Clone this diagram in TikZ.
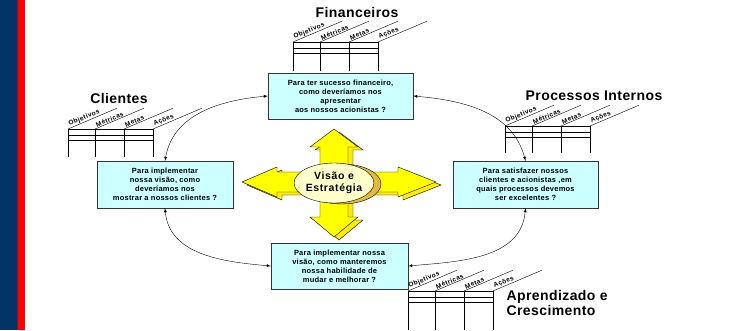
\documentclass[tikz,border=0pt]{standalone}
\usepackage{fontspec}
\setmainfont{Liberation Sans}[LetterSpace=3]
\newfontfamily\widefont{Liberation Sans}[LetterSpace=6]
\usepackage{tikz}
\usetikzlibrary{shapes,arrows,positioning,calc}

\definecolor{bscblue}{HTML}{003366}
\definecolor{bscred}{HTML}{FF0000}
\definecolor{boxcyan}{HTML}{CCFFFF}
\definecolor{arrowyellow}{HTML}{FFFF00}
\definecolor{arrowgold}{HTML}{E5B73B}
\definecolor{visioncream}{HTML}{FFFFCC}

% small table with the four slanted column heads
\newcommand{\bsctable}[4]{%
  \foreach \dx in {0,27,56,85}
    \draw (#1+\dx,#2) -- (#1+\dx,#2-#3);
  \foreach \dy in {0,6,11}
    \draw (#1,#2-\dy) -- (#1+85,#2-\dy);
  \foreach \dx/\lab/\tag in {0/Objetivos/obj,27/Métricas/met,56/Metas/mts,85/Ações/acs} {
    \draw (#1+\dx,#2) -- ++(23:53);
    \node[collabel] (#4-\tag) at ($(#1+\dx,#2)+(23:2)$) {\lab};
  }
}

\begin{document}
\begin{tikzpicture}[x=1pt,y=1pt,
    question/.style={draw=black!80, fill=boxcyan, align=center, inner sep=2pt,
                     font=\bfseries\fontsize{7.5}{9}\selectfont},
    title/.style={font=\bfseries\fontsize{14}{15}\selectfont},
    collabel/.style={anchor=south west, rotate=23, inner sep=0.6pt,
                     font=\widefont\bfseries\fontsize{6.5}{7.5}\selectfont},
    link/.style={latex-latex, thin},
    bigarrow/.style={draw=black, line join=miter}]
    \useasboundingbox (0,0) rectangle (737,330);

    % Side band
    \fill[bscblue] (0,0) rectangle (17,330);
    \fill[red!45!bscblue] (17,0) rectangle (18.3,330);
    \fill[bscred] (18.3,0) rectangle (25,330);

    % Vision and strategy
    \draw[bigarrow, fill=arrowyellow!85!orange, shift={(5,-3)}]
      (334,201) -- (358,183) -- (348,183) -- (348,158) -- (398,158) -- (398,163)
      -- (436,148) -- (398,133) -- (398,138) -- (348,138) -- (348,113) -- (358,113)
      -- (334,93) -- (310,113) -- (320,113) -- (320,138) -- (277,138) -- (277,133)
      -- (242,148) -- (277,163) -- (277,158) -- (320,158) -- (320,183) -- (310,183) -- cycle;
    \draw[bigarrow, fill=arrowyellow]
      (334,201) -- (358,183) -- (348,183) -- (348,158) -- (398,158) -- (398,163)
      -- (436,148) -- (398,133) -- (398,138) -- (348,138) -- (348,113) -- (358,113)
      -- (334,93) -- (310,113) -- (320,113) -- (320,138) -- (277,138) -- (277,133)
      -- (242,148) -- (277,163) -- (277,158) -- (320,158) -- (320,183) -- (310,183) -- cycle;
    \draw[fill=arrowgold] (342,146) ellipse (39 and 20);
    \node[ellipse, draw, fill=visioncream, minimum width=78pt, minimum height=40pt,
          inner sep=0pt, align=center, font=\widefont\bfseries\fontsize{10.5}{12.5}\selectfont]
          (vision) at (334,147) {Visão e\\Estratégia};

    % Perspectives
    \node[question, minimum width=145pt, minimum height=46pt] (fin) at (340.5,234)
      {Para ter sucesso financeiro,\\ como deveríamos nos\\ apresentar\\ aos nossos acionistas ?};
    \node[question, minimum width=136pt, minimum height=47pt] (cli) at (165,145.5)
      {Para implementar\\ nossa visão, como\\ deveríamos nos\\ mostrar a nossos clientes ?};
    \node[question, minimum width=145pt, minimum height=47pt] (proc) at (525.5,145.5)
      {Para satisfazer nossos\\ clientes e acionistas ,em\\ quais processos devemos\\ ser excelentes ?};
    \node[question, minimum width=137pt, minimum height=46pt] (apr) at (339.5,64)
      {Para implementar nossa\\ visão, como manteremos\\ nossa habilidade de\\ mudar e melhorar ?};

    % Cycle
    \draw[link] (cli.north) to[out=80,in=185] (fin.west);
    \draw[link] (fin.east) to[out=-5,in=105] (proc.north);
    \draw[link] (proc.south) to[out=-95,in=5] (apr.east);
    \draw[link] (apr.west) to[out=175,in=-85] (cli.south);

    % Tables
    \bsctable{293}{288}{29}{fint}
    \bsctable{68}{201}{28}{clit}
    \bsctable{505}{204}{27}{proct}
    \bsctable{408}{39}{39}{aprt}

    % Titles
    \node[title] (fintitle) at (357,318) {Financeiros};
    \node[title] (clititle) at (119,232) {Clientes};
    \node[title] (proctitle) at (594,234) {Processos Internos};
    \node[title, anchor=west, align=left] (aprtitle) at (503,27.5) {Aprendizado e\\Crescimento};
\end{tikzpicture}
\end{document}
